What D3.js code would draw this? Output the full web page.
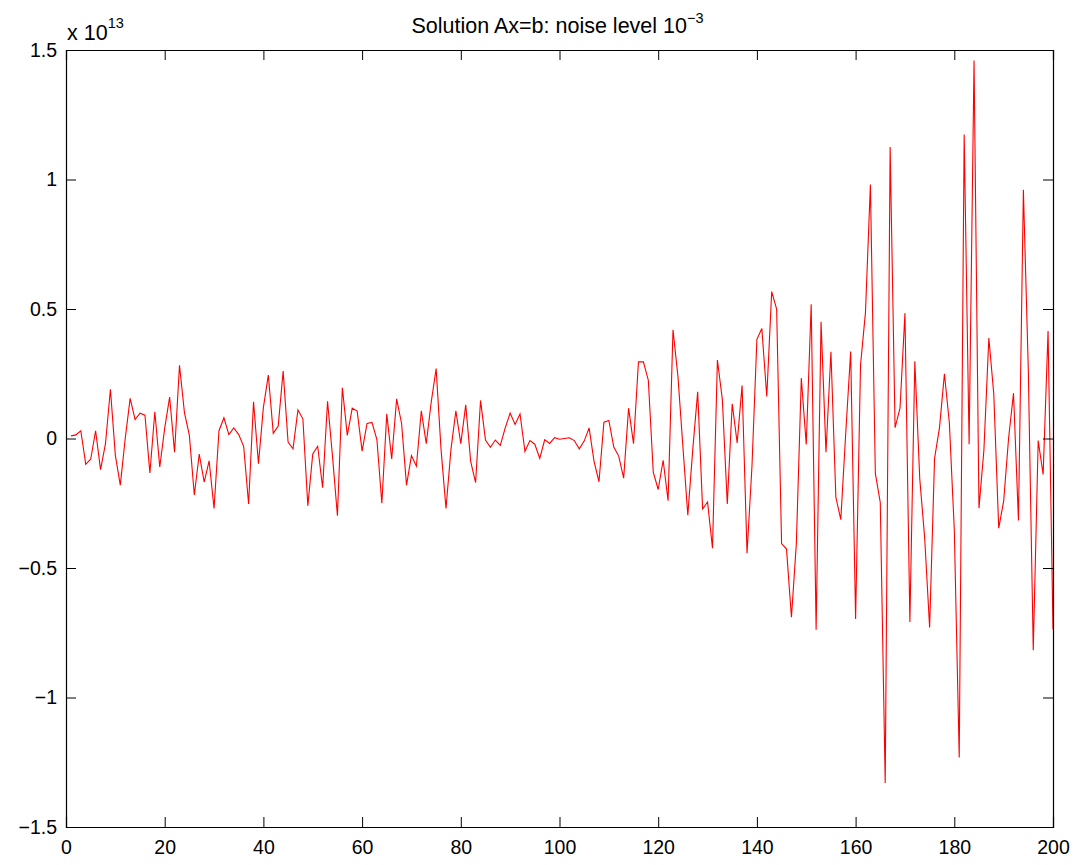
<!DOCTYPE html>
<meta charset="utf-8">
<style>
body { margin: 0; background: #fff; }
.line { fill: none; stroke: #ff0000; stroke-width: 1.1px; }
.tick text, text { font-family: "Liberation Sans", Arial, sans-serif; fill: #000; }
</style>
<body>
<script src="https://d3js.org/d3.v7.min.js"></script>
<script>
// solution values, in units of 10^13, for index 1..200
var values = [
  0.01, 0.014, 0.03, -0.10, -0.08, 0.03, -0.12, -0.02, 0.19, -0.065,
  -0.18, 0.0, 0.155, 0.073, 0.098, 0.09, -0.133, 0.103, -0.11, 0.04,
  0.16, -0.053, 0.283, 0.10, 0.012, -0.218, -0.06, -0.168, -0.086, -0.27,
  0.03, 0.08, 0.015, 0.041, 0.015, -0.03, -0.253, 0.142, -0.097, 0.12,
  0.245, 0.02, 0.048, 0.26, -0.014, -0.04, 0.11, 0.076, -0.26, -0.06,
  -0.03, -0.19, 0.144, -0.068, -0.298, 0.196, 0.012, 0.117, 0.106, -0.049,
  0.058, 0.062, -0.004, -0.25, 0.095, -0.079, 0.153, 0.058, -0.18, -0.066,
  -0.107, 0.107, -0.02, 0.14, 0.27, -0.043, -0.27, -0.043, 0.107, -0.02,
  0.13, -0.088, -0.17, 0.147, -0.006, -0.034, -0.006, -0.027, 0.041, 0.098,
  0.054, 0.095, -0.05, -0.008, -0.022, -0.077, -0.005, -0.019, 0.003, -0.003,
  0.0, 0.003, -0.008, -0.04, -0.01, 0.041, -0.088, -0.167, 0.063, 0.07,
  -0.033, -0.068, -0.153, 0.117, -0.02, 0.296, 0.296, 0.225, -0.13, -0.197,
  -0.084, -0.24, 0.42, 0.24, -0.03, -0.296, -0.043, 0.18, -0.272, -0.245,
  -0.424, 0.303, 0.15, -0.253, 0.134, -0.017, 0.205, -0.443, -0.107, 0.383,
  0.425, 0.162, 0.567, 0.50, -0.406, -0.427, -0.69, -0.403, 0.233, -0.023,
  0.518, -0.738, 0.451, -0.053, 0.335, -0.227, -0.313, 0.02, 0.336, -0.697,
  0.285, 0.487, 0.981, -0.135, -0.247, -1.33, 1.125, 0.042, 0.117, 0.484,
  -0.708, 0.298, -0.155, -0.385, -0.73, -0.077, 0.042, 0.25, 0.06, -0.352,
  -1.232, 1.174, -0.022, 1.459, -0.269, -0.044, 0.388, 0.172, -0.346, -0.242,
  0.001, 0.175, -0.317, 0.96, 0.263, -0.818, -0.008, -0.139, 0.415, -0.737
];
var xTicks = [0, 20, 40, 60, 80, 100, 120, 140, 160, 180, 200];
var yTicks = [-1.5, -1, -0.5, 0, 0.5, 1, 1.5];
var exponent = "13";
var titleText = "Solution Ax=b: noise level 10";
var titleExp = "\u22123";

// set the dimensions and margins of the graph
var margin = {top: 50, right: 26, bottom: 38, left: 66},
    width = 1079 - margin.left - margin.right,
    height = 865 - margin.top - margin.bottom;

var data = values.map(function(v, i) { return {x: i + 1, y: v}; });

// set the ranges
var x = d3.scaleLinear().domain([0, 200]).range([0, width]);
var y = d3.scaleLinear().domain([-1.5, 1.5]).range([height, 0]);

var fmt = function(d) { return String(d).replace("-", "\u2212"); };

var svg = d3.select("body").append("svg")
    .attr("width", 1079)
    .attr("height", 865)
  .append("g")
    .attr("transform", "translate(" + margin.left + "," + margin.top + ")");

// the line
var valueline = d3.line()
    .x(function(d) { return x(d.x); })
    .y(function(d) { return y(d.y); });

svg.append("path")
    .datum(data)
    .attr("class", "line")
    .attr("d", valueline);

// axes, ticks pointing inwards like matlab
var tickLen = 10;
var xAxisB = svg.append("g")
    .attr("transform", "translate(0," + height + ")")
    .call(d3.axisBottom(x).tickValues(xTicks).tickSize(-tickLen).tickPadding(13).tickFormat(fmt));
var xAxisT = svg.append("g")
    .call(d3.axisTop(x).tickValues(xTicks).tickSize(-tickLen).tickFormat(""));
var yAxisL = svg.append("g")
    .call(d3.axisLeft(y).tickValues(yTicks).tickSize(-tickLen).tickPadding(9).tickFormat(fmt));
var yAxisR = svg.append("g")
    .attr("transform", "translate(" + width + ",0)")
    .call(d3.axisRight(y).tickValues(yTicks).tickSize(-tickLen).tickFormat(""));

svg.selectAll(".domain").attr("stroke", "#000").attr("stroke-width", 1.2);
svg.selectAll(".tick line").attr("stroke", "#000");
svg.selectAll(".tick text").style("font-size", "19.5px");
// hide end ticks that sit on the box
xAxisB.selectAll(".tick line").filter(function(d) { return d === 0 || d === 200; }).remove();
xAxisT.selectAll(".tick line").filter(function(d) { return d === 0 || d === 200; }).remove();
yAxisL.selectAll(".tick line").filter(function(d) { return d === 1.5 || d === -1.5; }).remove();
yAxisR.selectAll(".tick line").filter(function(d) { return d === 1.5 || d === -1.5; }).remove();

// exponent label
var ex = svg.append("text")
    .attr("x", 1)
    .attr("y", -10)
    .style("font-size", "21.5px");
ex.append("tspan").text("x 10");
ex.append("tspan").attr("dy", -12).style("font-size", "14.5px").text(exponent);

// title
var t = svg.append("text")
    .attr("x", width / 2 - 2)
    .attr("y", -17)
    .attr("text-anchor", "middle")
    .style("font-size", "21.5px");
t.append("tspan").text(titleText);
t.append("tspan").attr("dy", -10).style("font-size", "14.5px").text(titleExp);
</script>
</body>
